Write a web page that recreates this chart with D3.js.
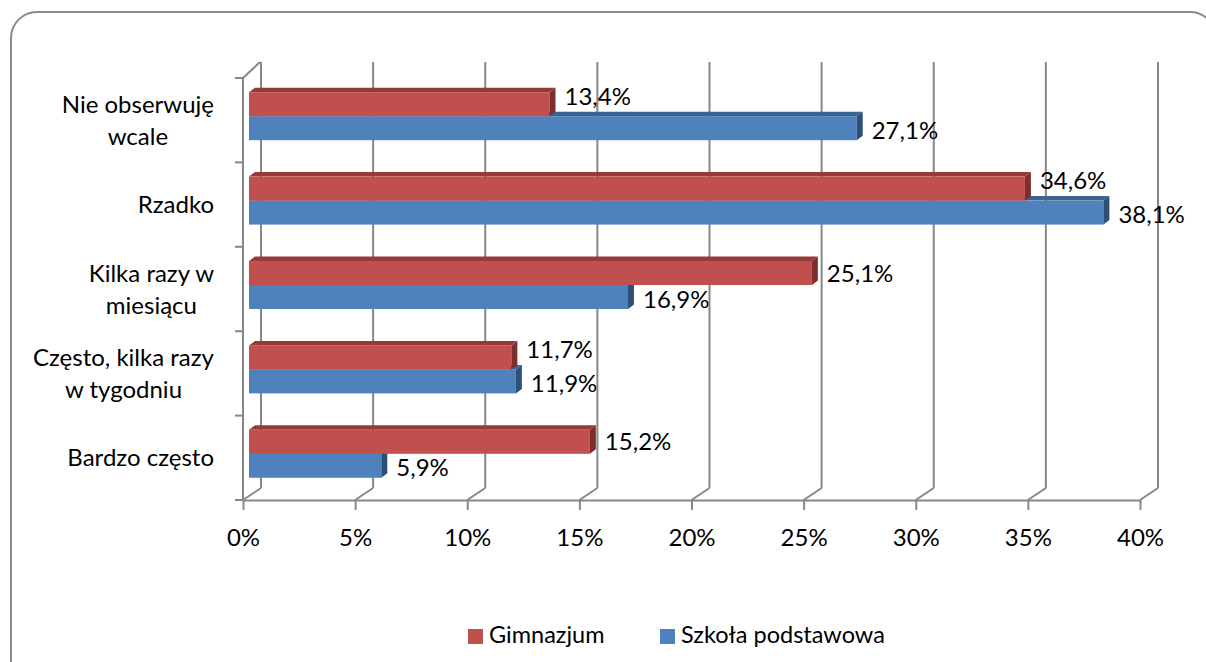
<!DOCTYPE html>
<html><head><meta charset="utf-8">
<script src="https://cdn.jsdelivr.net/npm/d3@7"></script>
<style>
html,body{margin:0;padding:0;background:#fff;}
svg{display:block;}
text{font-family:Lato,"Open Sans",sans-serif;fill:#000;}
</style></head>
<body>
<svg id="chart" width="1206" height="662"></svg>
<script>
const categories = [["Nie obserwuję","wcale"],["Rzadko"],["Kilka razy w","miesiącu"],["Często, kilka razy","w tygodniu"],["Bardzo często"]];
const seriesNames = ["Gimnazjum","Szkoła podstawowa"];
const gimnazjum = [13.4, 34.6, 25.1, 11.7, 15.2];
const szkola = [27.1, 38.1, 16.9, 11.9, 5.9];
const xTicks = [0,5,10,15,20,25,30,35,40];

const colors = {
  "Gimnazjum": {front:"#C0504D", top:"#963A38", side:"#7E2F2D"},
  "Szkoła podstawowa": {front:"#4F81BD", top:"#3B6290", side:"#2E4F78"}
};
const values = {"Gimnazjum": gimnazjum, "Szkoła podstawowa": szkola};

const svg = d3.select("#chart");
const FS = 24;

// outer frame
svg.append("rect").attr("x",11).attr("y",12).attr("width",1205).attr("height",690)
  .attr("rx",26).attr("ry",26).attr("fill","none").attr("stroke","#8a8a8a").attr("stroke-width",2);

const x = d3.scaleLinear().domain([0,40]).range([243,1140]);
const catIdx = d3.range(categories.length);
const y = d3.scaleBand().domain(catIdx).range([78,500]).paddingInner(0).paddingOuter(0);
const ys = d3.scaleBand().domain(seriesNames).range([0,y.bandwidth()]).paddingInner(0).paddingOuter(0.76);

const wallDx = 18, wallDy = 12;   // back wall offset
const barDx = 6, barDy = -4;      // bar front plane offset
const depX = 6, depY = 4.5;       // bar depth
const gridColor = "#878787";

const g = svg.append("g");
// back wall gridlines + floor diagonals
xTicks.forEach(t => {
  const xf = x(t);
  g.append("line").attr("x1",xf+wallDx).attr("x2",xf+wallDx).attr("y1",62).attr("y2",500-wallDy)
    .attr("stroke",gridColor).attr("stroke-width",2);
  g.append("line").attr("x1",xf).attr("y1",500).attr("x2",xf+wallDx).attr("y2",500-wallDy)
    .attr("stroke",gridColor).attr("stroke-width",2);
});

// x axis (front)
const xAxis = d3.axisBottom(x).tickValues(xTicks).tickFormat(d => d + "%").tickSize(10).tickPadding(19).tickSizeOuter(0);
const ax = svg.append("g").attr("transform","translate(0,500)").call(xAxis);
ax.select(".domain").attr("stroke",gridColor).attr("stroke-width",2);
ax.selectAll(".tick line").attr("stroke",gridColor).attr("stroke-width",2);
ax.selectAll(".tick text").attr("font-size",FS).attr("font-family","Lato").attr("fill","#000");

// left axis
g.append("line").attr("x1",x(0)).attr("x2",x(0)).attr("y1",78).attr("y2",501).attr("stroke",gridColor).attr("stroke-width",2);
g.append("line").attr("x1",x(0)).attr("y1",78).attr("x2",x(0)+17).attr("y2",62).attr("stroke",gridColor).attr("stroke-width",2);
d3.range(categories.length+1).forEach(i => {
  const yy = 78 + i*y.step();
  g.append("line").attr("x1",x(0)-8).attr("x2",x(0)).attr("y1",yy).attr("y2",yy).attr("stroke",gridColor).attr("stroke-width",2);
});

// bars
const bars = svg.append("g");
catIdx.forEach(i => {
  [...seriesNames].reverse().forEach(s => {
    const v = values[s][i];
    const c = colors[s];
    const x0 = x(0)+barDx, x1 = x(v)+barDx;
    const y0 = y(i)+ys(s)+barDy, h = ys.bandwidth();
    bars.append("path").attr("d",`M${x0},${y0}L${x0+depX},${y0-depY}L${x1+depX},${y0-depY}L${x1},${y0}Z`).attr("fill",c.top);
    bars.append("rect").attr("x",x0).attr("y",y0).attr("width",x1-x0).attr("height",h).attr("fill",c.front);
    bars.append("path").attr("d",`M${x1},${y0}L${x1+depX},${y0-depY}L${x1+depX},${y0+h-depY}L${x1},${y0+h}Z`).attr("fill",c.side);
  });
});

// data labels
catIdx.forEach(i => {
  seriesNames.forEach((s,si) => {
    const v = values[s][i];
    const other = values[seriesNames[1-si]][i];
    const y0 = y(i)+ys(s)+barDy, h = ys.bandwidth();
    let cy = y0 + h/2 + (si===1 ? 2 : 0);
    if (si===0 && other > v) cy -= 8;
    svg.append("text").attr("x", x(v)+barDx+depX+9).attr("y", cy).attr("dy","0.36em")
      .attr("font-size",FS).text(d3.format(".1f")(v).replace(".",",") + "%");
  });
});

// category labels
const lineH = 32;
catIdx.forEach(i => {
  const lines = categories[i];
  const cy = y(i) + y.bandwidth()/2;
  const grp = svg.append("g");
  const texts = lines.map((ln,li) => grp.append("text").attr("font-size",FS)
    .attr("y", cy + (li - (lines.length-1)/2)*lineH).attr("dy","0.36em").attr("text-anchor","middle").text(ln));
  const maxW = d3.max(texts, t => t.node().getComputedTextLength());
  texts.forEach(t => t.attr("x", 214 - maxW/2));
});

// legend
const legX = [468, 660];
seriesNames.forEach((s,si) => {
  svg.append("rect").attr("x",legX[si]).attr("y",629).attr("width",15).attr("height",15).attr("fill",colors[s].front);
  svg.append("text").attr("x",legX[si]+21).attr("y",643).attr("font-size",23.5).text(s);
});
</script>
</body></html>
